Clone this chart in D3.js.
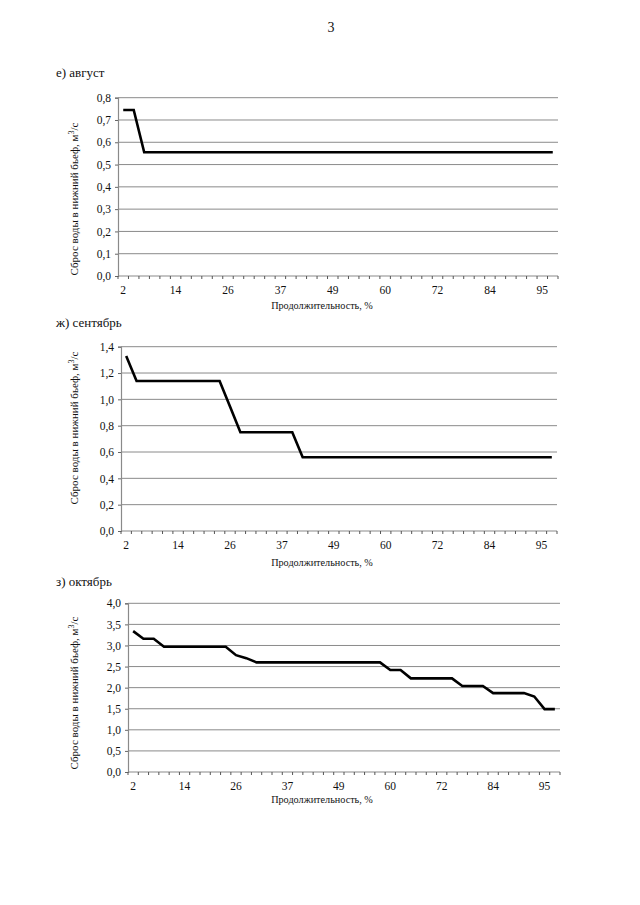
<!DOCTYPE html>
<html>
<head>
<meta charset="utf-8">
<script src="https://cdn.jsdelivr.net/npm/d3@7/dist/d3.min.js"></script>
<style>
  html, body { margin: 0; padding: 0; background: #fff; }
  svg { display: block; }
</style>
</head>
<body>
<svg id="page" width="640" height="905" font-family="Liberation Serif"></svg>
<script>
// ---- data ----
const categories = [2,5,7,9,12,14,16,19,21,23,26,28,30,33,35,37,40,42,44,47,49,51,53,56,58,60,63,65,67,70,72,74,77,79,81,84,86,88,91,93,95,98];
const shownLabels = [2,14,26,37,49,60,72,84,95];

const augustValues = [0.745,0.745,0.555,0.555,0.555,0.555,0.555,0.555,0.555,0.555,
  0.555,0.555,0.555,0.555,0.555,0.555,0.555,0.555,0.555,0.555,
  0.555,0.555,0.555,0.555,0.555,0.555,0.555,0.555,0.555,0.555,
  0.555,0.555,0.555,0.555,0.555,0.555,0.555,0.555,0.555,0.555,
  0.555,0.555];
const septemberValues = [1.33,1.14,1.14,1.14,1.14,1.14,1.14,1.14,1.14,1.14,
  0.945,0.75,0.75,0.75,0.75,0.75,0.75,0.56,0.56,0.56,
  0.56,0.56,0.56,0.56,0.56,0.56,0.56,0.56,0.56,0.56,
  0.56,0.56,0.56,0.56,0.56,0.56,0.56,0.56,0.56,0.56,
  0.56,0.56];
const octoberValues = [3.34,3.16,3.16,2.97,2.97,2.97,2.97,2.97,2.97,2.97,
  2.77,2.70,2.60,2.60,2.60,2.60,2.60,2.60,2.60,2.60,
  2.60,2.60,2.60,2.60,2.60,2.42,2.42,2.22,2.22,2.22,
  2.22,2.22,2.04,2.04,2.04,1.87,1.87,1.87,1.87,1.79,
  1.49,1.49];

const augustTicks = [0,0.1,0.2,0.3,0.4,0.5,0.6,0.7,0.8];
const septemberTicks = [0,0.2,0.4,0.6,0.8,1.0,1.2,1.4];
const octoberTicks = [0,0.5,1.0,1.5,2.0,2.5,3.0,3.5,4.0];

const titles = ["е) август", "ж) сентябрь", "з) октябрь"];
const xTitle = "Продолжительность, %";

// ---- drawing ----
const FONT = "Liberation Serif";
const svg = d3.select("#page");
svg.append("text").attr("x", 331).attr("y", 32).attr("text-anchor", "middle")
  .attr("font-family", FONT).attr("font-size", 14).attr("fill", "#111").text("3");

const fmt = v => d3.format(".1f")(v).replace(".", ",");

function drawChart(cfg) {
  const g = svg.append("g");
  const x = d3.scaleBand().domain(categories.map((c, i) => i)).range([cfg.left, cfg.right]).padding(0);
  const y = d3.scaleLinear().domain([0, cfg.ticks[cfg.ticks.length - 1]]).range([cfg.bottom, cfg.top]);

  // title
  g.append("text").attr("x", 56).attr("y", cfg.titleY)
    .attr("font-family", FONT).attr("font-size", 13).attr("fill", "#111").text(cfg.title);

  // gridlines
  g.selectAll("line.grid").data(cfg.ticks.slice(1)).join("line")
    .attr("x1", cfg.left).attr("x2", cfg.right)
    .attr("y1", d => y(d)).attr("y2", d => y(d))
    .attr("stroke", "#8a8a8a").attr("stroke-width", 1);

  // y axis
  const yAxis = d3.axisLeft(y).tickValues(cfg.ticks).tickSize(3).tickPadding(4).tickFormat(fmt);
  const ya = g.append("g").attr("transform", `translate(${cfg.left},0)`).call(yAxis)
    .attr("font-family", FONT).attr("font-size", 11.5);
  ya.select(".domain").attr("stroke", "#8a8a8a").attr("stroke-width", 1.2);
  ya.selectAll(".tick line").attr("stroke", "#666");
  ya.selectAll(".tick text").attr("fill", "#111");

  // x axis baseline
  g.append("line").attr("x1", cfg.left).attr("x2", cfg.right)
    .attr("y1", cfg.bottom).attr("y2", cfg.bottom).attr("stroke", "#8a8a8a").attr("stroke-width", 1.2);
  // tick marks at category boundaries
  const bounds = categories.map((c, i) => x(i)).concat([x(categories.length - 1) + x.bandwidth()]);
  g.selectAll("line.xt").data(bounds).join("line")
    .attr("x1", d => d).attr("x2", d => d)
    .attr("y1", cfg.bottom).attr("y2", cfg.bottom + 3)
    .attr("stroke", "#555").attr("stroke-width", 1);
  // x tick labels
  const labelIdx = categories.map((c, i) => i).filter(i => i % 5 === 0);
  g.selectAll("text.xl").data(labelIdx).join("text")
    .attr("x", i => x(i) + x.bandwidth() / 2)
    .attr("y", cfg.bottom + 18)
    .attr("text-anchor", "middle").attr("font-family", FONT).attr("font-size", 11.5).attr("fill", "#111")
    .text(i => shownLabels[labelIdx.indexOf(i)]);

  // x title
  g.append("text").attr("x", 322).attr("y", cfg.bottom + cfg.xTitleOff)
    .attr("text-anchor", "middle").attr("font-family", FONT).attr("font-size", 10.2).attr("fill", "#111")
    .text(xTitle);

  // y title
  const yt = g.append("text")
    .attr("transform", `translate(78,${cfg.yTitleY}) rotate(-90)`)
    .attr("text-anchor", "middle").attr("font-family", FONT).attr("font-size", 11).attr("fill", "#111");
  yt.append("tspan").text("Сброс воды в нижний бьеф, м");
  yt.append("tspan").attr("dy", -4).attr("font-size", 8).text("3");
  yt.append("tspan").attr("dy", 4).text("/с");

  // line
  const line = d3.line().x((d, i) => x(i) + x.bandwidth() / 2).y(d => y(d));
  g.append("path").datum(cfg.values).attr("d", line)
    .attr("fill", "none").attr("stroke", "#000").attr("stroke-width", 2.6)
    .attr("stroke-linejoin", "miter");
}

drawChart({ title: titles[0], titleY: 77, left: 118, right: 558, top: 97.7, bottom: 276,
  ticks: augustTicks, values: augustValues, xTitleOff: 33, yTitleY: 199 });
drawChart({ title: titles[1], titleY: 327, left: 121, right: 557, top: 346.7, bottom: 531,
  ticks: septemberTicks, values: septemberValues, xTitleOff: 35, yTitleY: 428 });
drawChart({ title: titles[2], titleY: 586, left: 128, right: 560, top: 603.3, bottom: 772,
  ticks: octoberTicks, values: octoberValues, xTitleOff: 31, yTitleY: 693 });
</script>
</body>
</html>
